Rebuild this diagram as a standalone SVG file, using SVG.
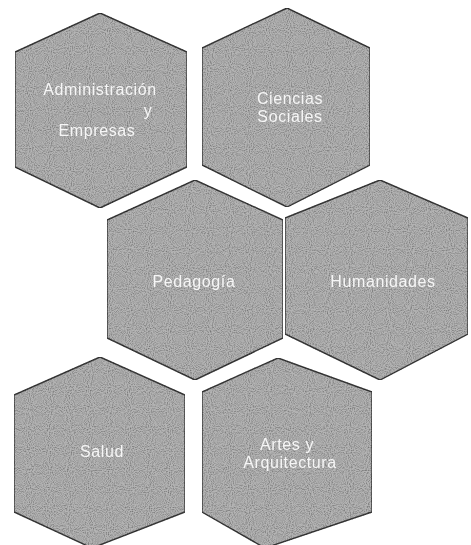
<svg xmlns="http://www.w3.org/2000/svg" width="471" height="545" viewBox="0 0 471 545">
<defs>
<filter id="grain" x="0" y="0" width="100%" height="100%">
<feTurbulence type="fractalNoise" baseFrequency="0.95" numOctaves="1" seed="4" result="n"/>
<feColorMatrix in="n" type="matrix" values="0 0 0 0 0  0 0 0 0 0  0 0 0 0 0  0 0 0 1.4 -0.55" result="dots"/>
<feComposite in="dots" in2="SourceGraphic" operator="in" result="d2"/>
<feMerge><feMergeNode in="SourceGraphic"/><feMergeNode in="d2"/></feMerge>
</filter>
<filter id="soft"><feGaussianBlur stdDeviation="0.35"/></filter>
</defs>
<style>
.hex{fill:#b4b4b4;stroke:#3a3a3a;stroke-width:1.4;filter:url(#grain)}
.lbl{font-family:"Liberation Sans",Arial,sans-serif;font-size:16px;letter-spacing:0.6px;fill:#f6f6f6;text-anchor:middle;filter:url(#soft)}
</style>
<rect width="471" height="545" fill="#ffffff"/>
<g id="administracion">
<polygon class="hex" points="100,13 187,52 187,167 100,208 15,167 15,52"/>
<text class="lbl" x="100" y="95">Administración</text>
<text class="lbl" x="148" y="116">y</text>
<text class="lbl" x="97" y="136">Empresas</text>
</g>
<g id="ciencias-sociales">
<polygon class="hex" points="287,8 370,48 370,165 287,207 202,165 202,48"/>
<text class="lbl" x="290" y="104">Ciencias</text>
<text class="lbl" x="290" y="122">Sociales</text>
</g>
<g id="pedagogia">
<polygon class="hex" points="195,180 283,220 283,338 195,380 107,338 107,220"/>
<text class="lbl" x="194" y="287">Pedagogía</text>
</g>
<g id="humanidades">
<polygon class="hex" points="380,180 468,218 468,334 380,380 285,334 285,218"/>
<text class="lbl" x="383" y="287">Humanidades</text>
</g>
<g id="salud">
<polygon class="hex" points="100,357 185,395 185,512 92,548 14,512 14,395"/>
<text class="lbl" x="102" y="457">Salud</text>
</g>
<g id="artes">
<polygon class="hex" points="278,358 372,392 372,512 265,548 202,512 202,392"/>
<text class="lbl" x="287" y="450">Artes y</text>
<text class="lbl" x="290" y="468">Arquitectura</text>
</g>
<g id="connectors"/>
</svg>
